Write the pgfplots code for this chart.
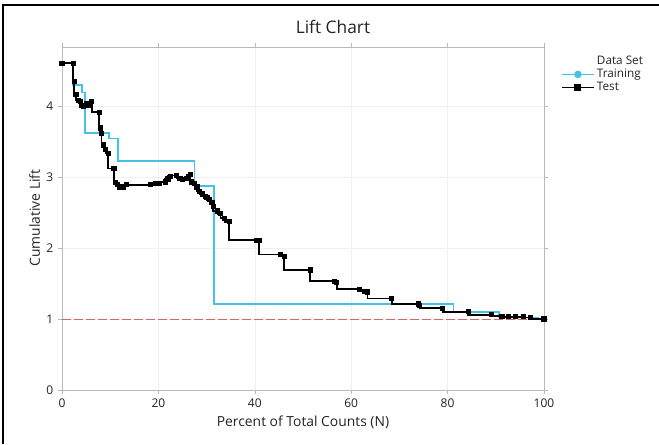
\documentclass[border=0pt]{standalone}
\usepackage{fontspec}
\setmainfont{Open Sans}
\usepackage{pgfplots}
\pgfplotsset{compat=1.18}
\definecolor{trainc}{RGB}{70,192,228}
\definecolor{refc}{RGB}{205,105,105}
\definecolor{txt}{RGB}{35,35,35}
\begin{document}
\begin{tikzpicture}
\useasboundingbox (0,0) rectangle (494.25pt,-333pt);
\draw[line width=1.5pt,black] (2.2pt,-333pt) -- (2.2pt,-3.4pt) -- (494.25pt,-3.4pt);
\node[text=txt,font=\fontsize{13}{15}\selectfont] at (249.75pt,-20.5pt) {Lift Chart};
\node[text=txt,font=\fontsize{10.4}{12}\selectfont] at (227.25pt,-317pt) {Percent of Total Counts (N)};
\node[text=txt,font=\fontsize{10.4}{12}\selectfont,rotate=90] at (26pt,-163.5pt) {Cumulative Lift};
\begin{axis}[
  at={(46.5pt,-292.5pt)}, anchor=south west,
  scale only axis, width=361.5pt, height=257.25pt,
  xmin=0, xmax=100, ymin=0, ymax=4.83,
  xtick={0,20,40,60,80,100}, ytick={0,1,2,3,4},
  axis line style={gray!55}, tick style={gray!55},
  tick align=outside, major tick length=3pt,
  grid=major, grid style={gray!12},
  ticklabel style={text=txt,font=\fontsize{9}{10}\selectfont},
  /pgf/number format/assume math mode=true,
  legend style={at={(rel axis cs:1,1)}, anchor=north west, xshift=12pt, yshift=-3.5pt,
    draw=none, fill=none, font=\fontsize{8.8}{9}\selectfont, text=txt,
    row sep=-2pt, inner sep=1pt},
  legend cell align=left,
  legend image code/.code={\draw[mark repeat=2,mark phase=2,#1] plot coordinates {(0cm,0cm) (0.41cm,0cm) (0.82cm,0cm)};},
]
\addlegendimage{empty legend}
\addlegendentry{Data Set}
\addlegendimage{trainc, line width=1.2pt, mark=*, mark size=2.2pt}
\addlegendentry{Training}
\addlegendimage{black, line width=1.2pt, mark=square*, mark size=2pt}
\addlegendentry{Test}

\addplot[forget plot, refc, line width=0.7pt, dash pattern=on 6.5pt off 2.5pt] coordinates {(0,1) (100,1)};

\addplot[forget plot, const plot mark right, trainc, line width=1.3pt, no marks] coordinates {
(0,4.60) (2.2,4.60) (4.1,4.29) (4.8,4.19) (9.75,3.62) (11.55,3.54) (27.5,3.23) (31.6,2.87) (81.2,1.21) (90.7,1.10) (98.8,1.02) (100,1.00)
};

\addplot[forget plot, const plot mark right, black, line width=1.3pt, mark=square*, mark size=1.3pt] coordinates {
(0,4.60) (2.35,4.60) (2.55,4.34) (2.9,4.16) (3.4,4.08) (3.9,4.06) (4.1,4.01) (4.4,3.99) (5.0,4.03) (5.6,4.01) (6.2,4.06)
(7.7,3.91) (8.0,3.69) (8.2,3.61) (8.6,3.45) (9.1,3.39) (9.6,3.33) (10.8,3.12) (11.1,2.92) (11.55,2.89) (12.0,2.86)
(12.7,2.86) (13.3,2.89) (18.3,2.89) (19.5,2.91) (20.3,2.91) (21.4,2.93) (22.0,2.97) (22.5,3.01) (23.8,3.02) (24.5,2.98)
(25.0,2.96) (25.9,2.98) (26.6,3.03) (26.9,2.93) (27.5,2.91) (28.0,2.86) (28.6,2.80) (29.2,2.76) (29.7,2.73) (30.1,2.71)
(30.6,2.68) (31.1,2.64) (31.4,2.58) (32.3,2.52) (32.9,2.48) (33.7,2.42) (34.7,2.37) (40.3,2.11) (40.9,2.11) (45.4,1.91)
(46.1,1.88) (51.5,1.69) (56.6,1.53) (57.0,1.51) (61.8,1.42) (62.7,1.39) (63.4,1.38) (68.4,1.29) (73.9,1.21) (74.2,1.19)
(79.0,1.15) (84.3,1.10) (89.1,1.06) (91.3,1.04) (92.7,1.03) (94.1,1.03) (95.8,1.03) (97.2,1.02) (100,1.00)
};
\end{axis}
\end{tikzpicture}
\end{document}
